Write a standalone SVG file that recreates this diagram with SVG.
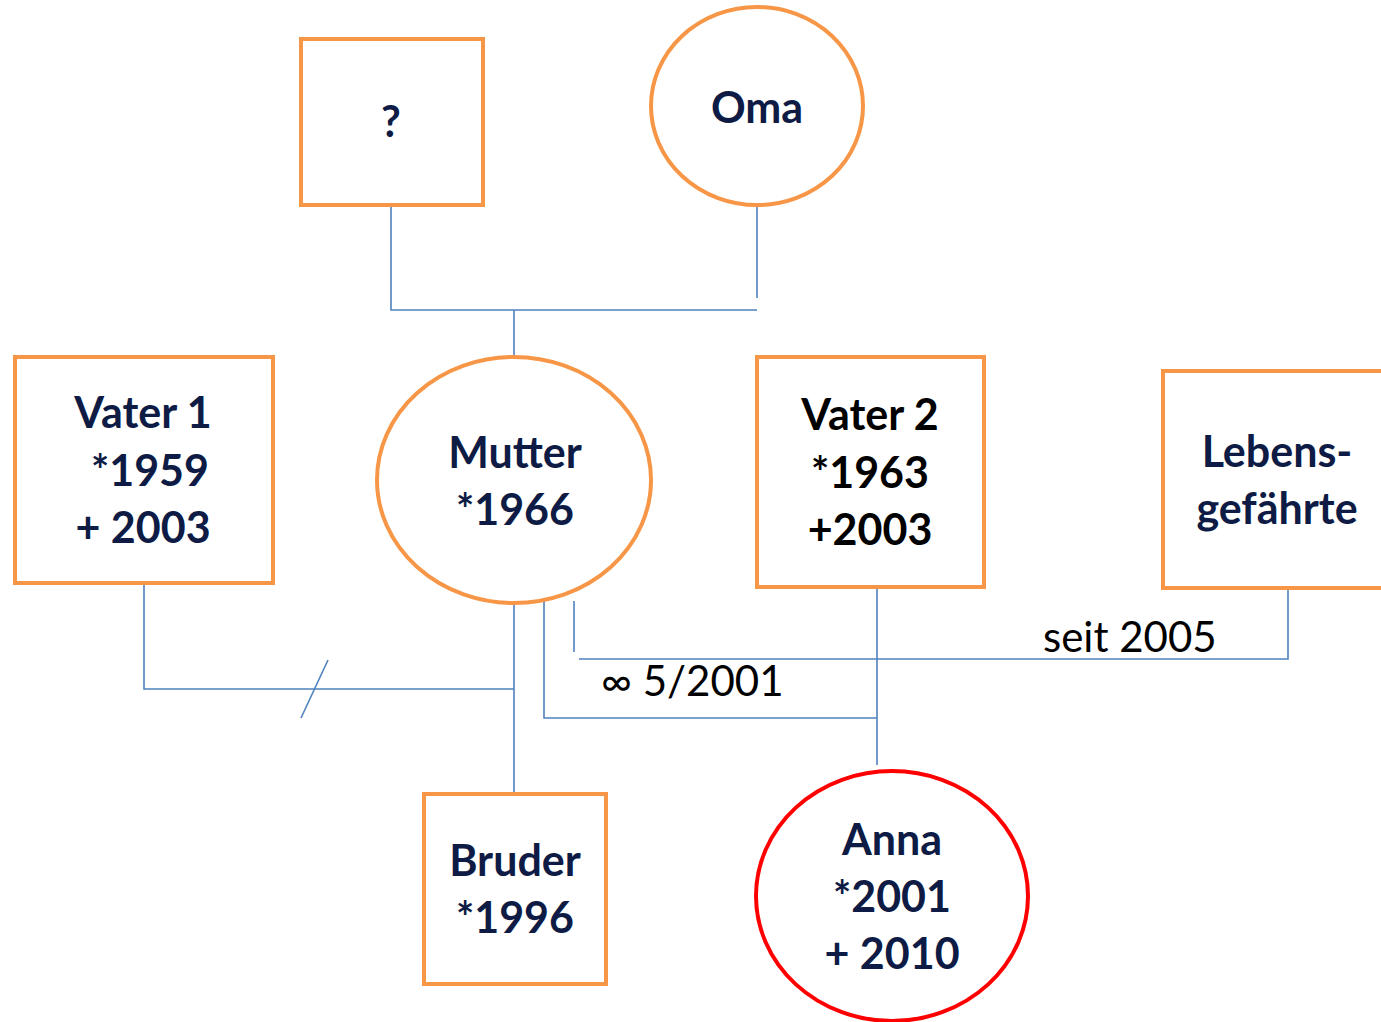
<svg xmlns="http://www.w3.org/2000/svg" width="1381" height="1022" viewBox="0 0 1381 1022">
<style>
.box{fill:#fff;stroke:#f79646;stroke-width:4}
.red{fill:#fff;stroke:#ff0000;stroke-width:4}
.ln{fill:none;stroke:#4f81bd;stroke-width:1.6}
.t{font-family:Lato,"Liberation Sans",sans-serif;font-weight:bold;font-size:43px;fill:#0d1b45;text-anchor:middle}
.k{fill:#000}
.r{font-family:Lato,"Liberation Sans",sans-serif;font-size:42px;fill:#000}
</style>
<rect width="1381" height="1022" fill="#fff"/>
<g id="connectors">
<polyline class="ln" points="391,205 391,310 757,310"/>
<line class="ln" x1="757" y1="205" x2="757" y2="298"/>
<line class="ln" x1="514" y1="310" x2="514" y2="357"/>
<polyline class="ln" points="144,583 144,689 514,689"/>
<line class="ln" x1="301" y1="718" x2="328" y2="660"/>
<line class="ln" x1="514" y1="603" x2="514" y2="794"/>
<polyline class="ln" points="544,601 544,718 877,718"/>
<line class="ln" x1="574" y1="601" x2="574" y2="652"/>
<polyline class="ln" points="579,659 1288,659 1288,588"/>
<line class="ln" x1="877" y1="587" x2="877" y2="765"/>
<text class="r" x="601" y="696">∞ 5/2001</text>
<text class="r" x="1043" y="652">seit 2005</text>
</g>
<g id="unknown"><rect class="box" x="301" y="39" width="182" height="166"/><text class="t" x="391" y="137">?</text></g>
<g id="oma"><ellipse class="box" cx="757" cy="106" rx="106" ry="99"/><text class="t" x="757" y="123">Oma</text></g>
<g id="vater1"><rect class="box" x="15" y="357" width="258" height="226"/><text class="t" x="143" y="428">Vater 1</text><text class="t" x="150" y="486">*1959</text><text class="t" x="143" y="543">+ 2003</text></g>
<g id="mutter"><ellipse class="box" cx="514" cy="480" rx="137" ry="123"/><text class="t" x="515" y="468">Mutter</text><text class="t" x="515" y="525">*1966</text></g>
<g id="vater2"><rect class="box" x="757" y="357" width="227" height="230"/><text class="t k" x="870" y="430">Vater 2</text><text class="t k" x="870" y="488">*1963</text><text class="t k" x="870" y="545">+2003</text></g>
<g id="lebensgefaehrte"><rect class="box" x="1163" y="371" width="230" height="217"/><text class="t" x="1277" y="467">Lebens-</text><text class="t" x="1277" y="524">gefährte</text></g>
<g id="bruder"><rect class="box" x="424" y="794" width="182" height="190"/><text class="t" x="515" y="876">Bruder</text><text class="t" x="515" y="933">*1996</text></g>
<g id="anna"><ellipse class="red" cx="892" cy="896" rx="136" ry="125"/><text class="t" x="892" y="855">Anna</text><text class="t" x="892" y="912">*2001</text><text class="t" x="892" y="969">+ 2010</text></g>
</svg>
